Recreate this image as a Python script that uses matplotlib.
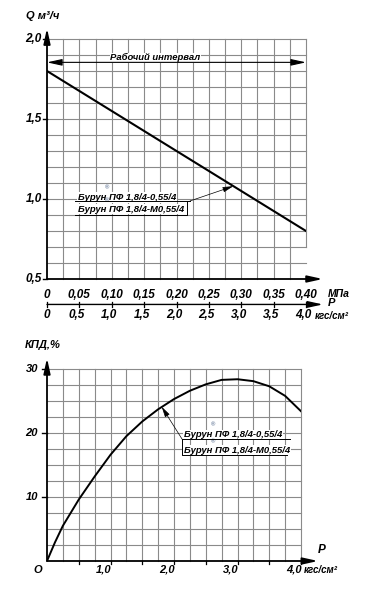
import numpy as np
import matplotlib
matplotlib.use('Agg')
import matplotlib.pyplot as plt

plt.rcParams['font.family'] = ['Liberation Sans', 'DejaVu Sans']
plt.rcParams['font.weight'] = 'bold'
plt.rcParams['font.style'] = 'italic'

# --- data ---
# flow vs pressure (kgf/cm2)
p_flow = [0.0, 1.0, 2.0, 3.0, 4.0]
q_flow = [1.80, 1.55, 1.30, 1.05, 0.80]

# efficiency vs pressure (kgf/cm2)
p_eff = [0.0, 0.125, 0.25, 0.5, 0.75, 1.0, 1.25, 1.5, 1.75, 2.0, 2.25,
         2.5, 2.75, 3.0, 3.25, 3.5, 3.75, 4.0]
eff = [0.0, 2.9, 5.5, 9.6, 13.2, 16.6, 19.5, 21.8, 23.7, 25.3, 26.6,
       27.6, 28.3, 28.4, 28.1, 27.3, 25.8, 23.4]

q_ticks = [0.5, 1.0, 1.5, 2.0]
q_labels = ['0,5', '1,0', '1,5', '2,0']
mpa_labels = ['0', '0,05', '0,10', '0,15', '0,20', '0,25', '0,30', '0,35', '0,40']
kgf_labels = ['0', '0,5', '1,0', '1,5', '2,0', '2,5', '3,0', '3,5', '4,0']
kgf_ticks = np.arange(0, 4.01, 0.5)
eff_ticks = [10, 20, 30]
eff_labels = ['10', '20', '30']
p2_ticks = [0, 1, 2, 3, 4]
p2_labels = ['O', '1,0', '2,0', '3,0', '4,0']
brand = 'Бурун'
model_names = ['ПФ 1,8/4-0,55/4', 'ПФ 1,8/4-М0,55/4']

GRID = '#8a8a8a'
W, H = 369, 600
LABEL_FS = 6.8


def arrow(ax, start, end, style='-|>', lw=1.3, z=5):
    ax.annotate('', xy=end, xytext=start,
                arrowprops=dict(arrowstyle=style + ',head_length=1.0,head_width=0.22',
                                color='k', lw=lw, mutation_scale=9,
                                shrinkA=0, shrinkB=0),
                annotation_clip=False, zorder=z)


fig = plt.figure(figsize=(W / 100, H / 100), dpi=100)
renderer = fig.canvas.get_renderer()

# width of the brand word, to put the registered mark right after it
probe = fig.text(0, 0, brand, fontsize=LABEL_FS)
brand_w = probe.get_window_extent(renderer).width * 72 / fig.dpi
probe.remove()


def model_label(ax, x, y, name, mark_dy=7.2):
    ax.text(x, y, brand + ' ' + name, ha='left', va='baseline', fontsize=LABEL_FS,
            bbox=dict(facecolor='white', edgecolor='none', pad=0.5), zorder=3)
    ax.annotate('®', xy=(x, y), xytext=(brand_w + 0.3, mark_dy), textcoords='offset points',
                ha='center', va='bottom', fontsize=4.2, color='#6f82a0',
                style='normal', zorder=4, annotation_clip=False)


# ================= top chart: Q(P) =================
ax1 = fig.add_axes([47 / W, 1 - 279 / H, 259 / W, 240 / H])
ax1.set_xlim(0, 4)
ax1.set_ylim(0.5, 2.0)
ax1.set_axis_off()

for x in np.arange(0.25, 4.01, 0.25):
    lo = 0.7 if x > 3.99 else 0.5
    ax1.plot([x, x], [lo, 2.0], color=GRID, lw=0.8, zorder=1, clip_on=False)
for y in np.arange(0.6, 2.01, 0.1):
    ax1.plot([0, 4], [y, y], color=GRID, lw=0.8, zorder=1, clip_on=False)

ax1.plot(p_flow, q_flow, color='k', lw=1.5, zorder=4)

# axes with arrows
arrow(ax1, (0, 0.5), (0, 2.067))
arrow(ax1, (0, 0.5), (4.26, 0.5))
arrow(ax1, (0, 0.341), (4.26, 0.341), lw=1.0)
for x in kgf_ticks:
    ax1.plot([x, x], [0.323, 0.359], color='k', lw=0.9, clip_on=False)

for y, lab in zip(q_ticks, q_labels):
    ax1.plot([-0.06, 0], [y, y], color='k', lw=1.0, clip_on=False)
    ax1.text(-0.08, y, lab, ha='right', va='center', fontsize=8.5)

for x, lab in zip(kgf_ticks, mpa_labels):
    ax1.text(x, 0.400, lab, ha='center', va='center', fontsize=8.5)
for x, lab in zip(kgf_ticks, kgf_labels):
    ax1.text(x - (0.04 if x > 0 else 0), 0.272, lab, ha='center', va='center', fontsize=8.5)

ax1.text(4.33, 0.404, 'МПа', ha='left', va='center', fontsize=7.5)
ax1.text(4.34, 0.348, 'P', ha='left', va='center', fontsize=8)
ax1.text(4.13, 0.268, 'кгс/см²', ha='left', va='center', fontsize=7)
ax1.text(-0.33, 2.146, 'Q м³/ч', ha='left', va='center', fontsize=8)

# working range
arrow(ax1, (0.0, 1.854), (4.0, 1.854), style='<|-|>', lw=0.8)
ax1.text(1.67, 1.882, 'Рабочий интервал', ha='center', va='center', fontsize=6.8,
         bbox=dict(facecolor='white', edgecolor='none', pad=0.3), zorder=3)

# model label
model_label(ax1, 0.48, 0.994, model_names[0])
model_label(ax1, 0.48, 0.921, model_names[1], mark_dy=6.3)
ax1.plot([0.43, 2.21], [0.988, 0.988], color='k', lw=0.7, zorder=4)
ax1.plot([0.43, 2.16, 2.16], [0.901, 0.901, 0.988], color='k', lw=0.7, zorder=4)
ax1.annotate('', xy=(2.877, 1.080), xytext=(2.21, 0.988),
             arrowprops=dict(arrowstyle='-|>,head_length=0.8,head_width=0.2',
                             color='k', lw=0.5, mutation_scale=8,
                             shrinkA=0, shrinkB=0), zorder=4)

# ================= bottom chart: efficiency(P) =================
ax2 = fig.add_axes([47 / W, 1 - 561 / H, 254 / W, 192 / H])
ax2.set_xlim(0, 4)
ax2.set_ylim(0, 30)
ax2.set_axis_off()

for x in np.arange(0.25, 4.01, 0.25):
    ax2.plot([x, x], [0, 30], color=GRID, lw=0.8, zorder=1, clip_on=False)
for y in np.arange(2.5, 30.01, 2.5):
    ax2.plot([0, 4], [y, y], color=GRID, lw=0.8, zorder=1, clip_on=False)

ax2.plot(p_eff, eff, color='k', lw=1.4, zorder=4, solid_joinstyle='round')

arrow(ax2, (0, 0), (0, 31.7))
arrow(ax2, (0, 0), (4.27, 0))
for x in kgf_ticks[1:]:
    ax2.plot([x, x], [0, -0.5], color='k', lw=0.9, clip_on=False)

for y, lab in zip(eff_ticks, eff_labels):
    ax2.plot([-0.08, 0], [y, y], color='k', lw=1.0, clip_on=False)
    ax2.text(-0.14, y, lab, ha='right', va='center', fontsize=8)

for x, lab in zip(p2_ticks, p2_labels):
    if x == 0:
        ax2.text(-0.15, -1.4, lab, ha='center', va='center', fontsize=8)
    else:
        ax2.text(x + 0.02, -1.4, lab, ha='right', va='center', fontsize=8)

ax2.text(4.33, 1.7, 'P', ha='center', va='center', fontsize=8.5)
ax2.text(4.05, -1.4, 'кгс/см²', ha='left', va='center', fontsize=7)
ax2.text(-0.35, 33.75, 'КПД,%', ha='left', va='center', fontsize=8)

model_label(ax2, 2.16, 19.33, model_names[0])
model_label(ax2, 2.16, 16.9, model_names[1], mark_dy=6.3)
ax2.plot([2.12, 3.83], [19.0, 19.0], color='k', lw=0.7, zorder=4)
ax2.plot([2.12, 2.12, 3.78], [19.0, 16.56, 16.56], color='k', lw=0.7, zorder=4)
ax2.annotate('', xy=(1.806, 24.1), xytext=(2.13, 19.0),
             arrowprops=dict(arrowstyle='-|>,head_length=0.8,head_width=0.2',
                             color='k', lw=0.5, mutation_scale=8,
                             shrinkA=0, shrinkB=0), zorder=4)

fig.savefig('out.png', dpi=100, facecolor='white')
